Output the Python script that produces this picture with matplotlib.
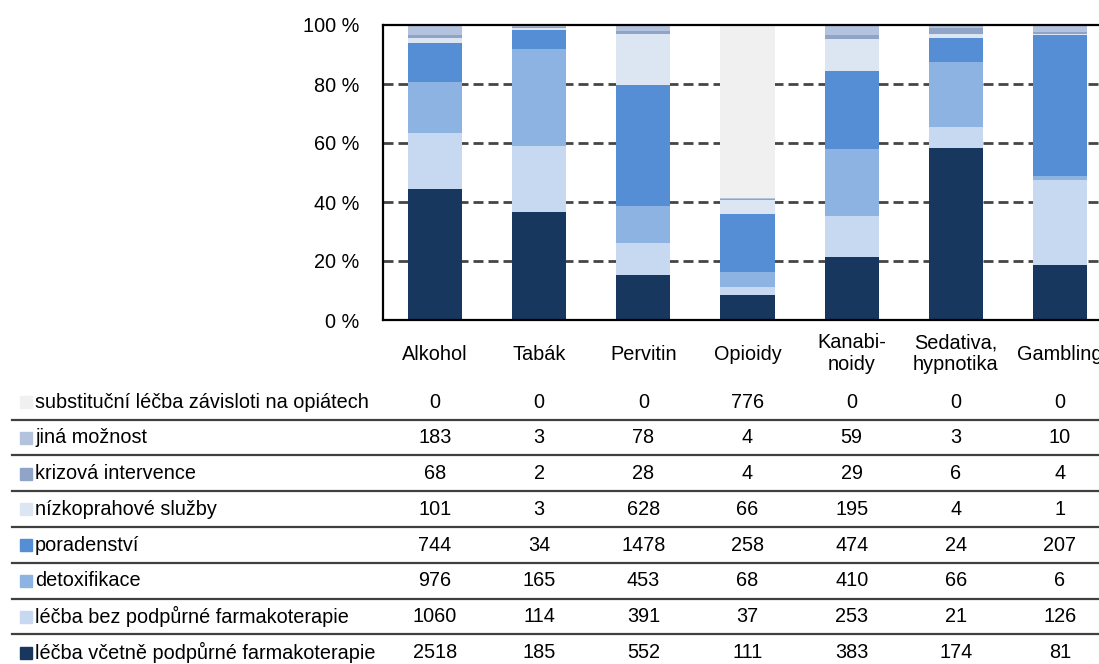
import numpy as np
import matplotlib
matplotlib.use('Agg')
from matplotlib import pyplot as plt
from matplotlib import transforms
from matplotlib.patches import Rectangle
from matplotlib.lines import Line2D

plt.rcParams['font.family'] = ['Liberation Sans Narrow', 'Liberation Sans', 'DejaVu Sans']

categories = ['Alkohol', 'Tabák', 'Pervitin', 'Opioidy', 'Kanabi-\nnoidy', 'Sedativa,\nhypnotika', 'Gambling']

# table rows, top to bottom
row_names = ['substituční léčba závisloti na opiátech', 'jiná možnost', 'krizová intervence',
             'nízkoprahové služby', 'poradenství', 'detoxifikace',
             'léčba bez podpůrné farmakoterapie', 'léčba včetně podpůrné farmakoterapie']
substitucni = [0, 0, 0, 776, 0, 0, 0]
jina = [183, 3, 78, 4, 59, 3, 10]
krizova = [68, 2, 28, 4, 29, 6, 4]
nizkoprah = [101, 3, 628, 66, 195, 4, 1]
poradenstvi = [744, 34, 1478, 258, 474, 24, 207]
detox = [976, 165, 453, 68, 410, 66, 6]
bez_farmako = [1060, 114, 391, 37, 253, 21, 126]
vcetne_farmako = [2518, 185, 552, 111, 383, 174, 81]

rows = [substitucni, jina, krizova, nizkoprah, poradenstvi, detox, bez_farmako, vcetne_farmako]
colors = ['#f0f0f0', '#b3c3dd', '#8fa4c6', '#dce6f2', '#558ed5', '#8db3e2', '#c6d9f1', '#17375e']

W, H = 1099, 664
fig = plt.figure(figsize=(W / 100, H / 100), dpi=100)

# axes runs past the right edge, like the cropped original
x0, x1, y_top, y_bot = 383, 1112, 25, 320
ax = fig.add_axes([x0 / W, 1 - y_bot / H, (x1 - x0) / W, (y_bot - y_top) / H])

data = np.array(rows, dtype=float)
totals = data.sum(axis=0)
pct = data / totals * 100
x = np.arange(len(categories))

bottom = np.zeros(len(categories))
for i in range(len(rows) - 1, -1, -1):
    ax.bar(x, pct[i], bottom=bottom, width=0.52, color=colors[i], zorder=2)
    bottom += pct[i]

fs = 14.3
ax.set_xlim(-0.5, len(categories) - 0.5)
ax.set_ylim(0, 100)
ax.set_yticks([0, 20, 40, 60, 80, 100])
ax.set_yticklabels(['0 %', '20 %', '40 %', '60 %', '80 %', '100 %'], fontsize=fs)
ax.tick_params(axis='y', length=0, pad=17)
ax.set_xticks([])
for y in [20, 40, 60, 80]:
    ax.axhline(y, color='#454545', lw=2, ls=(0, (3.6, 1.8)), zorder=1)
for s in ['left', 'top', 'bottom']:
    ax.spines[s].set_linewidth(1.6)
    ax.spines[s].set_color('black')
ax.spines['right'].set_visible(False)

# category labels and table values
trans = transforms.blended_transform_factory(ax.transData, fig.transFigure)
for j, c in enumerate(categories):
    ax.text(x[j], 1 - 354 / H, c, transform=trans, ha='center', va='center',
            fontsize=fs, linespacing=1.2)

row_y = 402
step = 35.8
for i, name in enumerate(row_names):
    yc = row_y + i * step
    fig.text(35 / W, 1 - yc / H, name, ha='left', va='center', fontsize=fs)
    fig.patches.append(Rectangle((20 / W, 1 - (yc + 6) / H), 12 / W, 12 / H,
                                 transform=fig.transFigure, color=colors[i]))
    for j in range(len(categories)):
        ax.text(x[j], 1 - yc / H, str(rows[i][j]), transform=trans,
                ha='center', va='center', fontsize=fs)
    if i < len(row_names) - 1:
        ly = 1 - (yc + 17.5) / H
        fig.add_artist(Line2D([12 / W, 1], [ly, ly], transform=fig.transFigure,
                              color='#404040', lw=1.6))

fig.savefig('out.png', dpi=100)
